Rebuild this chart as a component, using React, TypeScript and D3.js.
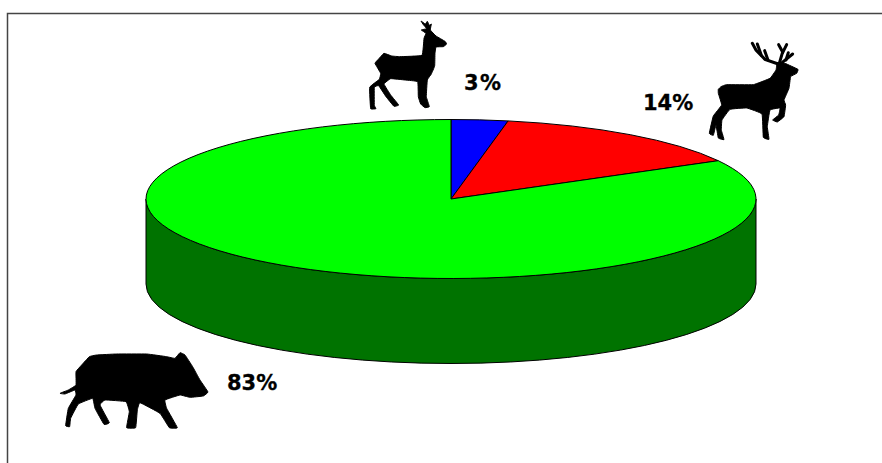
import React from 'react'
import * as d3 from 'd3'

const species = ['Roe deer', 'Red deer', 'Wild boar']
const shares = [3, 14, 83]
const labels = ['3%', '14%', '83%']
const topColors = ['#0000ff', '#ff0000', '#00ff00']

// silhouettes, in 3x crop units
const doe: [number, number][] = [
  [213, 63], [226, 72], [232, 64], [238, 76], [244, 72], [241, 90], [258, 108], [285, 124], [290, 132], [280, 140],
  [258, 141], [255, 160], [254, 198], [244, 222], [232, 240], [229, 290], [238, 320], [225, 323], [212, 312],
  [205, 290], [203, 245], [165, 240], [122, 236], [102, 252], [122, 285], [146, 315], [132, 319], [108, 290],
  [86, 257], [73, 262], [73, 316], [78, 326], [62, 326], [59, 262], [88, 238], [92, 220], [75, 190], [85, 178], [102, 160],
  [125, 168], [150, 170], [216, 166], [222, 115], [228, 100], [214, 90], [230, 86], [220, 74],
]
const stag: [number, number][] = [
  [295, 178], [303, 170], [320, 164], [400, 164], [450, 145], [468, 120], [472, 98], [495, 100], [534, 118], [530, 130],
  [512, 140], [507, 175], [492, 210], [497, 225], [492, 260], [472, 276], [458, 270], [476, 255], [480, 234],
  [450, 240], [442, 290], [447, 328], [430, 322], [426, 252], [380, 234], [330, 238], [306, 270], [304, 300],
  [312, 329], [295, 324], [288, 285], [280, 316], [268, 310], [280, 258], [305, 225], [295, 190],
]
const stagAntlers: [number, number][][] = [
  [[475, 102], [435, 88], [408, 60], [397, 40]],
  [[424, 76], [412, 42]],
  [[444, 90], [434, 62]],
  [[478, 100], [488, 66], [476, 44]],
  [[488, 68], [500, 44]],
  [[486, 98], [518, 72]],
  [[498, 90], [505, 68]],
]
const boar: [number, number][] = [
  [180, 190], [205, 180], [228, 165], [228, 125], [245, 105], [268, 80], [290, 75], [350, 72], [440, 72], [500, 80], [525, 85],
  [540, 68], [555, 75], [578, 110], [600, 150], [624, 186], [610, 198], [570, 202], [540, 195], [495, 210], [500, 235],
  [532, 293], [508, 293], [480, 250], [420, 218], [412, 240], [407, 293], [380, 293], [388, 245], [378, 215], [315, 210],
  [300, 225], [328, 278], [312, 283], [285, 235], [278, 205], [235, 222], [212, 265], [209, 290], [197, 287],
  [205, 235], [228, 195], [225, 180], [195, 192],
]

const cx = 451
const cy = 199
const rx = 305
const ry = 79.5
const depth = 85
const sideColor = '#007300'

const App: React.FC = () => {
  const slices = d3.pie<number>().sort(null)(shares)
  const arc = d3.arc<d3.PieArcDatum<number>>().innerRadius(0).outerRadius(rx)
  const silhouette = d3.line().curve(d3.curveCardinalClosed.tension(0.75))
  const antler = d3.line()

  // lower half of the rim, dropped by the thickness of the pie
  const side = `M${cx - rx},${cy} L${cx - rx},${cy + depth} A${rx},${ry} 0 0 0 ${cx + rx},${cy + depth} L${cx + rx},${cy} A${rx},${ry} 0 0 1 ${cx - rx},${cy} Z`

  return (
    <svg
      width={882}
      height={463}
      style={{ position: 'absolute', left: 0, top: 0, background: '#fff' }}
      fontFamily="'DejaVu Sans', sans-serif"
    >
      <path d="M7.5,463 V13.5 H882" fill="none" stroke="#444" strokeWidth={1.5} />

      <path d={side} fill={sideColor} stroke="#000" strokeWidth={1} />
      <g transform={`translate(${cx},${cy}) scale(1,${ry / rx})`}>
        {slices.map((d, i) => (
          <path
            key={species[i]}
            d={arc(d) || ''}
            fill={topColors[i]}
            stroke="#000"
            strokeWidth={1}
            vectorEffect="non-scaling-stroke"
          />
        ))}
      </g>

      <g transform="translate(350,0) scale(0.3333)">
        <path d={silhouette(doe) || ''} fill="#000" stroke="#000" strokeWidth={3} strokeLinejoin="round" />
      </g>
      <g transform="translate(620,30) scale(0.3333)">
        <path d={silhouette(stag) || ''} fill="#000" stroke="#000" strokeWidth={3} strokeLinejoin="round" />
        {stagAntlers.map((a, i) => (
          <path key={i} d={antler(a) || ''} fill="none" stroke="#000" strokeWidth={9} strokeLinecap="round" />
        ))}
      </g>
      <g transform="translate(0,330) scale(0.3333)">
        <path d={silhouette(boar) || ''} fill="#000" stroke="#000" strokeWidth={3} strokeLinejoin="round" />
      </g>

      <g fontSize={21} fontWeight="bold" fill="#000" stroke="#000" strokeWidth={0.3}>
        <text x={464} y={90} letterSpacing={1.5}>{labels[0]}</text>
        <text x={643} y={110}>{labels[1]}</text>
        <text x={227} y={390}>{labels[2]}</text>
      </g>
    </svg>
  )
}

export default App
